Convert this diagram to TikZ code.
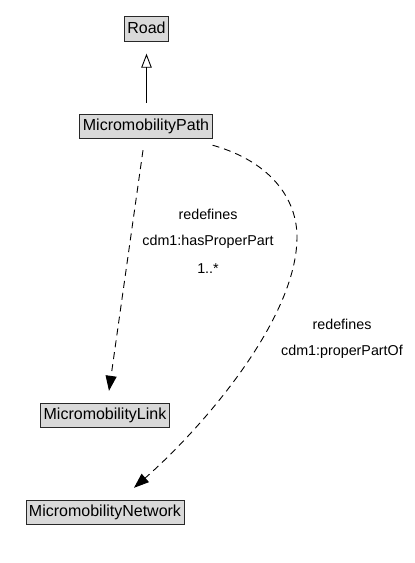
\documentclass[tikz,border=0pt]{standalone}
\usepackage{fontspec}
\setmainfont{Liberation Sans}
\usetikzlibrary{arrows.meta,calc}
\definecolor{boxfill}{RGB}{217,217,217}
\definecolor{boxline}{RGB}{40,40,40}
\tikzset{
  classbox/.style={draw=boxline, line width=0.9pt, fill=boxfill, font=\fontsize{16}{18}\selectfont,
    text height=12pt, text depth=3.5pt, inner xsep=3pt, inner ysep=4.5pt},
  lbl/.style={font=\fontsize{14.3}{16}\selectfont, inner sep=0pt},
  assoc/.style={line width=0.9pt, dash pattern=on 7pt off 5pt, -{Triangle[length=15pt,width=11pt]}},
  gen/.style={line width=0.9pt, -{Triangle[open,length=14pt,width=10.5pt]}}
}
\begin{document}
\begin{tikzpicture}[x=1pt,y=-1pt]
\useasboundingbox (0,0) rectangle (415,563);
\node[classbox] (road) at (146.5,29) {Road};
\node[classbox] (path) at (146,126.5) {MicromobilityPath};
\node[classbox] (link) at (105,415.5) {MicromobilityLink};
\node[classbox] (net) at (105,512.5) {MicromobilityNetwork};

\draw[gen] ($(path.north)+(0.5,-11)$) -- ($(road.south)+(0,12)$);

\draw[assoc] ($(path.south)+(-3,11)$) -- ($(link.north)+(4,-12)$);

\draw[assoc] ($(path.south east)+(0,6)$) .. controls (272,162) and (297,200) .. (297,237)
  .. controls (297,320) and (200,430) .. ($(net.north)+(29,-12)$);

\node[lbl] (l1) at (208,214) {redefines};
\node[lbl] (l2) at (208,242) {cdm1:hasProperPart};
\node[lbl] (l3) at (208,269) {1..*};
\node[lbl] (l4) at (342,324) {redefines};
\node[lbl] (l5) at (342,352) {cdm1:properPartOf};
\end{tikzpicture}
\end{document}
